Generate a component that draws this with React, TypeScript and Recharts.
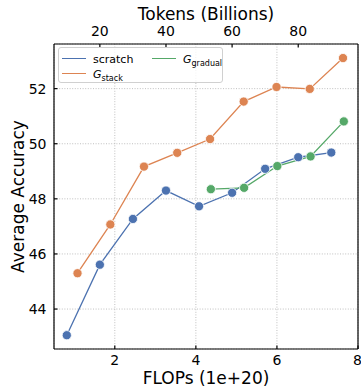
import { LineChart, Line, XAxis, YAxis, CartesianGrid, ReferenceLine, Legend } from 'recharts';

// scratch runs are logged by tokens seen (billions); the G runs by compute (1e20 FLOPs)
const scratchTokens = [10, 20, 30, 40, 50, 60, 70, 80, 90];
const scratchAcc = [43.05, 45.61, 47.27, 48.3, 47.73, 48.22, 49.09, 49.51, 49.68];
const stackFlops = [1.08, 1.89, 2.72, 3.54, 4.35, 5.18, 5.99, 6.81, 7.63];
const stackAcc = [45.3, 47.07, 49.17, 49.67, 50.17, 51.53, 52.06, 51.99, 53.11];
const gradualFlops = [4.37, 5.19, 6.01, 6.83, 7.65];
const gradualAcc = [48.35, 48.4, 49.19, 49.54, 50.81];

const flopTicks = [2, 4, 6, 8];
const tokenTicks = [20, 40, 60, 80];
const accTicks = [44, 46, 48, 50, 52];

// 1e20 FLOPs of training ~ 12.26B tokens
const TOKENS_PER_FLOP = 12.26;
const flopDomain: [number, number] = [0.5, 8];
const tokenDomain: [number, number] = [flopDomain[0] * TOKENS_PER_FLOP, flopDomain[1] * TOKENS_PER_FLOP];
const accDomain: [number, number] = [42.55, 53.62];

const scratch = scratchTokens.map((tokens, i) => ({ tokens, acc: scratchAcc[i] }));
const gStack = stackFlops.map((flops, i) => ({ flops, acc: stackAcc[i] }));
const gGradual = gradualFlops.map((flops, i) => ({ flops, acc: gradualAcc[i] }));

const BLUE = '#4c72b0';
const ORANGE = '#dd8452';
const GREEN = '#55a868';
const FONT = '"DejaVu Sans", sans-serif';

const tickStyle = { fill: '#000', fontSize: 14, fontFamily: FONT };
const titleStyle = { fill: '#000', fontSize: 17, fontFamily: FONT };

const dot = (color: string) => ({ r: 4.6, fill: color, stroke: '#fff', strokeWidth: 0.8, fillOpacity: 1 });

function LegendItem({ color, left, top, label, sub }: { color: string; left: number; top: number; label: string; sub?: string }) {
    return (
        <>
            <div style={{ position: 'absolute', left, top: top + 4.3, width: 24, height: 0, borderTop: `1.5px solid ${color}` }} />
            <div style={{ position: 'absolute', left: left + 31, top, fontSize: 11, lineHeight: '11px', whiteSpace: 'nowrap' }}>
                {sub ? (
                    <>
                        <i>{label}</i>
                        <sub style={{ fontSize: 8, verticalAlign: -3 }}>{sub}</sub>
                    </>
                ) : (
                    label
                )}
            </div>
        </>
    );
}

function renderLegend() {
    return (
        <div
            style={{
                position: 'relative',
                width: 165,
                height: 36,
                boxSizing: 'border-box',
                border: '1px solid #d0d0d0',
                borderRadius: 3,
                background: 'rgba(255,255,255,0.8)',
                fontFamily: FONT,
                color: '#000',
            }}
        >
            <LegendItem color={BLUE} left={3} top={6} label="scratch" />
            <LegendItem color={ORANGE} left={3} top={21} label="G" sub="stack" />
            <LegendItem color={GREEN} left={93} top={6} label="G" sub="gradual" />
        </div>
    );
}

export default function App() {
    return (
        <div style={{ position: 'absolute', left: 0, top: 0, width: 361, height: 388, background: '#fff' }}>
            <LineChart width={361} height={388} margin={{ top: 0, right: 3, bottom: 0, left: 0 }}>
                <CartesianGrid stroke="#b0b0b0" strokeDasharray="1 1.6" strokeWidth={0.8} />
                <XAxis
                    dataKey="flops"
                    type="number"
                    domain={flopDomain}
                    ticks={flopTicks}
                    allowDataOverflow
                    height={39}
                    stroke="#000"
                    strokeWidth={1.2}
                    tick={tickStyle}
                    tickSize={-3.5}
                    tickMargin={9.5}
                    label={{ value: 'FLOPs (1e+20)', position: 'insideBottom', offset: 4, style: titleStyle }}
                />
                <XAxis
                    xAxisId="tokens"
                    dataKey="tokens"
                    orientation="top"
                    type="number"
                    domain={tokenDomain}
                    ticks={tokenTicks}
                    allowDataOverflow
                    height={44}
                    stroke="#000"
                    strokeWidth={1.2}
                    tick={tickStyle}
                    tickSize={-3.5}
                    tickMargin={11.2}
                    label={{ value: 'Tokens (Billions)', position: 'insideTop', offset: 7.6, style: titleStyle }}
                />
                <YAxis
                    type="number"
                    domain={accDomain}
                    ticks={accTicks}
                    allowDataOverflow
                    width={54}
                    stroke="#000"
                    strokeWidth={1.2}
                    tick={tickStyle}
                    tickSize={-3.5}
                    tickMargin={11}
                    label={{
                        value: 'Average Accuracy',
                        angle: -90,
                        position: 'insideLeft',
                        offset: 18,
                        style: { ...titleStyle, textAnchor: 'middle' },
                    }}
                />
                <ReferenceLine x={flopDomain[1]} stroke="#000" strokeWidth={1.2} />
                <Legend content={renderLegend} verticalAlign="middle" wrapperStyle={{ left: 58, top: 47, width: 'auto' }} />
                <Line data={scratch} xAxisId="tokens" dataKey="acc" name="scratch" stroke={BLUE} strokeWidth={1.3} dot={dot(BLUE)} activeDot={false} isAnimationActive={false} />
                <Line data={gStack} dataKey="acc" name="G_stack" stroke={ORANGE} strokeWidth={1.3} dot={dot(ORANGE)} activeDot={false} isAnimationActive={false} />
                <Line data={gGradual} dataKey="acc" name="G_gradual" stroke={GREEN} strokeWidth={1.3} dot={dot(GREEN)} activeDot={false} isAnimationActive={false} />
            </LineChart>
        </div>
    );
}
